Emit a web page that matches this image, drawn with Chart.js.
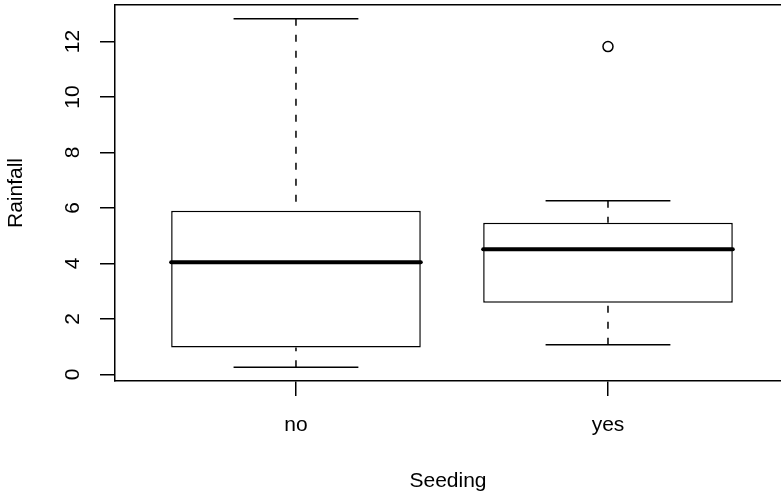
<!DOCTYPE html>
<html><head><meta charset="utf-8">
<script src="https://cdn.jsdelivr.net/npm/chart.js@4.4.1/dist/chart.umd.min.js"></script>
<style>html,body{margin:0;padding:0;background:#fff;overflow:hidden}#wrap{width:781px;height:496px;background:#fff}canvas{display:block}</style>
</head><body><div id="wrap"><canvas id="c" width="781" height="496"></canvas></div>
<script>
// ---- data ----
const categories   = ['no', 'yes'];
const positions    = [1, 2];
const whiskerLow   = [0.26, 1.07];
const quartile1    = [0.97, 2.58];
const medians      = [4.04, 4.51];
const quartile3    = [5.90, 5.47];
const whiskerHigh  = [12.82, 6.26];
const outlierGroup = [2];
const outlierValue = [11.82];
const yTicks       = [0, 2, 4, 6, 8, 10, 12];
const xTitle = 'Seeding';
const yTitle = 'Rainfall';

// ---- styling / geometry ----
const FONT = {family: "'Liberation Sans', Arial, Helvetica, sans-serif", size: 21};
const BOX_W = 0.8, CAP_W = 0.4;
const LW = 1.5;
const X_MIN = 0.42, X_MAX = 2.5545, Y_MIN = -0.24, Y_MAX = 13.32;

const datasets = [];
datasets.push({
  type: 'bar',
  data: positions.map((p, i) => ({x: p, y: [quartile1[i], quartile3[i]]})),
  backgroundColor: '#ffffff', borderColor: '#000', borderWidth: LW, borderSkipped: false,
  barPercentage: BOX_W, categoryPercentage: 1, order: 5
});
positions.forEach((p, i) => {
  const seg = (pts, extra) => datasets.push(Object.assign({
    type: 'line', data: pts, borderColor: '#000', borderWidth: LW, pointRadius: 0,
    fill: false, tension: 0, order: 2, borderCapStyle: 'butt'
  }, extra || {}));
  seg([{x: p, y: whiskerHigh[i]}, {x: p, y: quartile3[i]}], {borderDash: [7, 9]});
  seg([{x: p, y: whiskerLow[i]}, {x: p, y: quartile1[i]}], {borderDash: [7, 9]});
  seg([{x: p - CAP_W / 2, y: whiskerHigh[i]}, {x: p + CAP_W / 2, y: whiskerHigh[i]}]);
  seg([{x: p - CAP_W / 2, y: whiskerLow[i]}, {x: p + CAP_W / 2, y: whiskerLow[i]}]);
  seg([{x: p - BOX_W / 2, y: medians[i]}, {x: p + BOX_W / 2, y: medians[i]}], {borderWidth: 4, order: 0, borderCapStyle: 'round'});
});
datasets.push({
  type: 'scatter',
  data: outlierGroup.map((g, i) => ({x: g, y: outlierValue[i]})),
  pointStyle: 'circle', pointRadius: 5, pointBorderWidth: LW,
  borderColor: '#000', backgroundColor: 'rgba(0,0,0,0)', order: 0
});

const noPad = s => { s.paddingTop = 0; s.paddingBottom = 0; s.paddingLeft = 0; s.paddingRight = 0; };

new Chart(document.getElementById('c'), {
  type: 'scatter',
  data: {datasets},
  options: {
    responsive: false, animation: false, devicePixelRatio: 1,
    layout: {padding: 0, autoPadding: false},
    plugins: {legend: {display: false}, tooltip: {enabled: false}},
    scales: {
      x: {
        type: 'linear', position: 'bottom', min: X_MIN, max: X_MAX, offset: false,
        afterBuildTicks: s => { s.ticks = positions.map(v => ({value: v})); },
        afterFit: s => { s.height = 115; noPad(s); },
        ticks: {callback: v => { const k = positions.indexOf(v); return k >= 0 ? categories[k] : ''; },
                padding: 16.5, font: FONT, color: '#000', maxRotation: 0, autoSkip: false},
        grid: {display: true, drawOnChartArea: false, drawTicks: true, tickLength: 15, color: '#000', lineWidth: LW, offset: false},
        border: {display: true, color: '#000', width: LW},
        title: {display: true, text: xTitle, font: FONT, color: '#000', padding: {top: 0, bottom: 2.5}}
      },
      x2: {
        type: 'linear', position: 'top', min: X_MIN, max: X_MAX,
        ticks: {display: false}, grid: {display: false, drawTicks: false},
        border: {display: true, color: '#000', width: LW},
        afterFit: s => { s.height = 5; noPad(s); }
      },
      y: {
        type: 'linear', position: 'left', min: Y_MIN, max: Y_MAX,
        afterBuildTicks: s => { s.ticks = yTicks.map(v => ({value: v})); },
        afterFit: s => { s.width = 115; noPad(s); },
        ticks: {minRotation: 90, maxRotation: 90, crossAlign: 'center', padding: 15, font: FONT, color: '#000', autoSkip: false},
        grid: {display: true, drawOnChartArea: false, drawTicks: true, tickLength: 15, color: '#000', lineWidth: LW},
        border: {display: true, color: '#000', width: LW},
        title: {display: true, text: yTitle, font: FONT, color: '#000', padding: {top: 3.4, bottom: 0}}
      }
    }
  }
});
</script>
</body></html>
